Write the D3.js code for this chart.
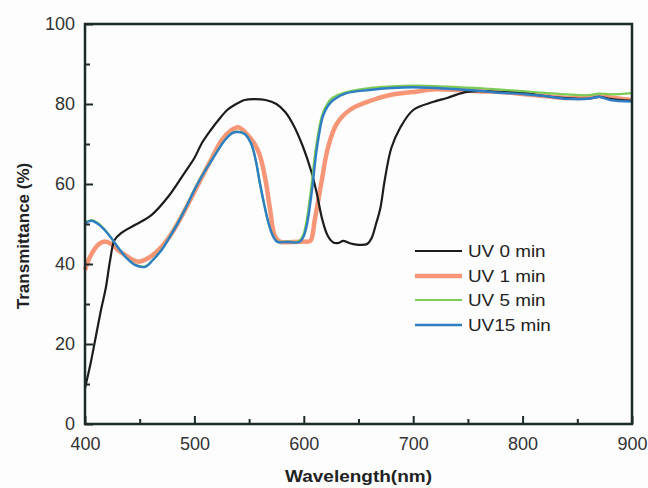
<!DOCTYPE html>
<html>
<head>
<meta charset="utf-8">
<script src="https://cdn.jsdelivr.net/npm/d3@7"></script>
<style>
  body { margin: 0; background: #fdfdfe; }
  svg { display: block; }
</style>
</head>
<body>
<script>
// spectra: [wavelength nm, transmittance %]
const uv0 = [
  [400, 9], [405, 15], [410, 22], [415, 29], [419, 34], [423, 41], [427, 46], [433, 47.7],
  [446, 49.8], [461, 52.3], [476, 56.8], [491, 62.8], [500, 66.5], [507, 70.3], [515, 73.5],
  [522, 76], [530, 78.5], [537, 79.8], [546, 81], [555, 81.2], [565, 81], [575, 80],
  [583, 78], [590, 75], [599, 69.5], [607, 63], [612, 57.5], [617, 51], [622, 47],
  [627, 45.4], [632, 45.3], [636, 45.8], [642, 45.2], [650, 44.8], [658, 45], [662, 46.5],
  [666, 50], [670, 54], [674, 61], [680, 69], [688, 74], [700, 78.5], [718, 80.5],
  [731, 81.5], [745, 82.8], [760, 83.2], [780, 83], [800, 82.8], [820, 82], [840, 81.5],
  [860, 81.3], [870, 81.8], [880, 81.3], [900, 80.8]
];
const uv1 = [
  [400, 38.5], [405, 42], [412, 44.8], [418, 45.6], [424, 45], [430, 43.5], [437, 42.2],
  [448, 40.6], [458, 41.5], [470, 44.3], [480, 48], [488, 51.8], [498, 57], [507, 61.8],
  [516, 66.5], [525, 71], [533, 73.3], [540, 74.2], [548, 72.5], [555, 70], [560, 67],
  [565, 61], [569, 54], [573.5, 47], [578, 45.6], [590, 45.5], [600, 45.6], [606, 45.8],
  [610, 51], [616.5, 61], [622, 69], [630, 75], [642, 78.5], [663, 81], [680, 82.3],
  [700, 83], [720, 83.7], [740, 83.5], [760, 83.2], [780, 83], [800, 82.5], [820, 82],
  [840, 81.5], [860, 81.8], [870, 82], [880, 81.6], [900, 81]
];
const uv5 = [
  [400, 50.4], [406, 51], [412, 50.2], [418, 48.6], [424, 46.5], [430, 44.2], [438, 41.5],
  [446, 39.8], [455, 39.4], [462, 41], [470, 43.6], [478, 47.1], [485, 50.4], [493, 54.6],
  [500, 58.6], [508, 62.6], [516, 66.1], [528, 71.1], [535, 72.9], [540, 73.1], [546, 72.6],
  [552, 70], [556, 66], [560, 60], [564.5, 54], [568, 50], [571, 47.5], [575.5, 45.7],
  [585, 45.6], [595, 45.6], [599, 47], [602, 50], [606.5, 58.5], [611, 69], [616.5, 77],
  [621, 79.8], [626, 81.5], [639, 83], [660, 84], [680, 84.4], [700, 84.6], [720, 84.5],
  [740, 84.2], [760, 84], [780, 83.6], [800, 83.2], [820, 82.8], [840, 82.4], [860, 82.2],
  [870, 82.6], [880, 82.4], [900, 82.7]
];
const uv15 = [
  [400, 50.2], [406, 50.8], [412, 50], [418, 48.5], [424, 46.5], [430, 44.2], [438, 41.5],
  [446, 39.7], [455, 39.3], [462, 41], [470, 43.5], [478, 47], [485, 50.3], [493, 54.5],
  [500, 58.5], [508, 62.5], [516, 66], [528, 71], [535, 72.8], [540, 73], [546, 72.5],
  [552, 70], [556, 66], [560, 60], [564.5, 54], [568, 50], [571, 47.5], [575.5, 45.6],
  [585, 45.5], [596, 45.5], [600, 47], [603, 50], [607.5, 58.5], [612, 69], [617.5, 77],
  [622, 79.5], [627, 81], [639, 82.7], [660, 83.5], [680, 84], [700, 84.2], [720, 84],
  [740, 83.7], [760, 83.3], [780, 82.8], [800, 82.5], [820, 82], [840, 81.3], [860, 81.3],
  [870, 81.8], [880, 81], [900, 80.6]
];

const seriesNames = ["UV 0 min", "UV 1 min", "UV 5 min", "UV15 min"];
const xTicks = [400, 500, 600, 700, 800, 900];
const xMinorTicks = [450, 550, 650, 750, 850];
const yTicks = [0, 20, 40, 60, 80, 100];
const yMinorTicks = [10, 30, 50, 70, 90];

const width = 648;
const height = 488;
const plotLeft = 85;
const plotRight = 632;
const plotTop = 24;
const plotBottom = 424;

const svg = d3
  .select("body")
  .append("svg")
  .attr("width", width)
  .attr("height", height);

svg.append("rect").attr("width", width).attr("height", height).attr("fill", "#fdfdfe");

const x = d3.scaleLinear().domain([400, 900]).range([plotLeft, plotRight]);
const y = d3.scaleLinear().domain([0, 100]).range([plotBottom, plotTop]);

const line = d3
  .line()
  .x((d) => x(d[0]))
  .y((d) => y(d[1]))
  .curve(d3.curveCatmullRom.alpha(0.5));

const styles = [
  { data: uv0, color: "#1c1c1c", width: 2.2, opacity: 1 },
  { data: uv1, color: "#f4845f", width: 4.5, opacity: 0.85 },
  { data: uv5, color: "#7ccb55", width: 2.2, opacity: 1 },
  { data: uv15, color: "#2f7ec4", width: 2.4, opacity: 1 },
];

// draw order: orange under the rest
const drawOrder = [1, 0, 2, 3];
drawOrder.forEach((i) => {
  svg
    .append("path")
    .datum(styles[i].data)
    .attr("fill", "none")
    .attr("stroke", styles[i].color)
    .attr("stroke-width", styles[i].width)
    .attr("stroke-opacity", styles[i].opacity)
    .attr("stroke-linejoin", "round")
    .attr("d", line);
});

// frame
const axisColor = "#1e2a2a";
svg
  .append("rect")
  .attr("x", plotLeft)
  .attr("y", plotTop)
  .attr("width", plotRight - plotLeft)
  .attr("height", plotBottom - plotTop)
  .attr("fill", "none")
  .attr("stroke", axisColor)
  .attr("stroke-width", 2.5);

svg
  .append("g")
  .attr("transform", `translate(0,${plotBottom})`)
  .call(d3.axisBottom(x).tickValues(xTicks).tickSize(-8).tickPadding(13).tickFormat(d3.format("d")));

svg
  .append("g")
  .attr("transform", `translate(0,${plotBottom})`)
  .call(d3.axisBottom(x).tickValues(xMinorTicks).tickSize(-5).tickFormat(""));

svg
  .append("g")
  .attr("transform", `translate(${plotLeft},0)`)
  .call(d3.axisLeft(y).tickValues(yTicks).tickSize(-8).tickPadding(10).tickFormat(d3.format("d")));

svg
  .append("g")
  .attr("transform", `translate(${plotLeft},0)`)
  .call(d3.axisLeft(y).tickValues(yMinorTicks).tickSize(-5).tickFormat(""));

svg.selectAll(".domain").remove();
svg.selectAll(".tick line").attr("stroke", axisColor).attr("stroke-width", 2);
svg
  .selectAll(".tick text")
  .attr("fill", "#333")
  .attr("font-family", "Liberation Sans, Arial, sans-serif")
  .attr("font-size", 18);

// axis titles
svg
  .append("text")
  .attr("x", (plotLeft + plotRight) / 2)
  .attr("y", 482)
  .attr("text-anchor", "middle")
  .attr("font-family", "Liberation Sans, Arial, sans-serif")
  .attr("font-weight", "bold")
  .attr("font-size", 16)
  .attr("fill", "#222")
  .attr("textLength", 147)
  .attr("lengthAdjust", "spacingAndGlyphs")
  .text("Wavelength(nm)");

svg
  .append("text")
  .attr("transform", `translate(29,${(plotTop + plotBottom) / 2 + 12}) rotate(-90)`)
  .attr("text-anchor", "middle")
  .attr("font-family", "Liberation Sans, Arial, sans-serif")
  .attr("font-weight", "bold")
  .attr("font-size", 17)
  .attr("fill", "#222")
  .text("Transmittance (%)");

// legend
const legend = svg.append("g");
const legendRowY = [251, 276, 300, 325];
seriesNames.forEach((name, i) => {
  const s = styles[i];
  legend
    .append("line")
    .attr("x1", 415)
    .attr("x2", 462)
    .attr("y1", legendRowY[i])
    .attr("y2", legendRowY[i])
    .attr("stroke", s.color)
    .attr("stroke-width", s.width)
    .attr("stroke-opacity", s.opacity);
  legend
    .append("text")
    .attr("transform", `translate(468,${legendRowY[i] + 6}) scale(1.18,1)`)
    .attr("font-family", "Liberation Sans, Arial, sans-serif")
    .attr("font-size", 16)
    .attr("fill", "#222")
    .text(name);
});
</script>
</body>
</html>
